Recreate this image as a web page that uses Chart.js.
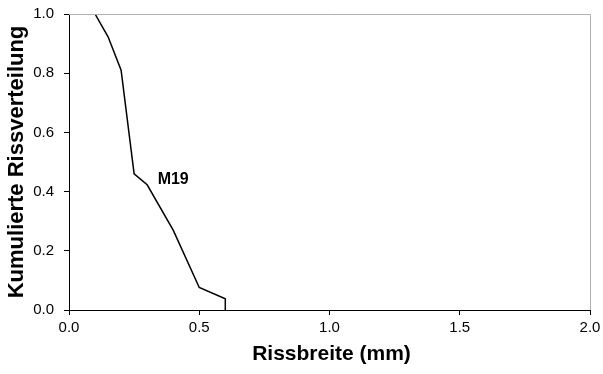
<!DOCTYPE html>
<html>
<head>
<meta charset="utf-8">
<script src="https://cdn.jsdelivr.net/npm/chart.js@4/dist/chart.umd.min.js"></script>
<style>
  html, body { margin: 0; padding: 0; background: #fff; }
  #wrap { width: 603px; height: 374px; }
</style>
</head>
<body>
<div id="wrap"><canvas id="chart" width="603" height="374"></canvas></div>
<script>
// crack width (mm) vs cumulative distribution, series M19
const rissbreite = [0.1, 0.15, 0.2, 0.25, 0.3, 0.4, 0.5, 0.6, 0.6];
const kumuliert  = [1.0, 0.923, 0.81, 0.46, 0.423, 0.27, 0.076, 0.038, 0.0];
const seriesName = 'M19';
const labelPos = [0.40, 0.44];
const xTitle = 'Rissbreite (mm)';
const yTitle = 'Kumulierte Rissverteilung';

const FONT = 'Arial, "Liberation Sans", sans-serif';

// gray frame on top/right, axis titles and series label
const extras = {
    id: 'extras',
    afterDraw(chart) {
        const ctx = chart.ctx, a = chart.chartArea;
        const xs = chart.scales.x, ys = chart.scales.y;
        ctx.save();
        ctx.strokeStyle = '#b0b0b0';
        ctx.lineWidth = 1;
        ctx.beginPath();
        ctx.moveTo(a.left, a.top + 0.5);
        ctx.lineTo(a.right + 0.5, a.top + 0.5);
        ctx.lineTo(a.right + 0.5, a.bottom);
        ctx.stroke();

        ctx.fillStyle = '#000';
        ctx.textAlign = 'center';
        ctx.textBaseline = 'middle';
        ctx.font = 'bold 16px ' + FONT;
        ctx.fillText(seriesName, xs.getPixelForValue(labelPos[0]), ys.getPixelForValue(labelPos[1]));

        ctx.font = 'bold 21px ' + FONT;
        ctx.fillText(xTitle, (a.left + a.right) / 2 + 2, 354);
        ctx.font = 'bold 22px ' + FONT;
        ctx.translate(17, 162);
        ctx.rotate(-Math.PI / 2);
        ctx.fillText(yTitle, 0, 0);
        ctx.restore();
    }
};

const chart = new Chart(document.getElementById('chart'), {
    type: 'scatter',
    data: {
        datasets: [{
            label: seriesName,
            data: rissbreite.map((x, i) => ({x: x, y: kumuliert[i]})),
            showLine: true,
            borderColor: '#000',
            borderWidth: 1.5,
            pointRadius: 0,
            tension: 0
        }]
    },
    options: {
        responsive: false,
        animation: false,
        layout: { padding: { top: 14, right: 13, left: 0, bottom: 0 } },
        plugins: { legend: { display: false }, tooltip: { enabled: false } },
        scales: {
            x: {
                type: 'linear', min: 0, max: 2,
                afterFit: s => { s.height = 64; s.paddingLeft = 0; s.paddingRight = 0; },
                border: { color: '#000', width: 1 },
                grid: { drawOnChartArea: false, tickLength: 5, color: '#000' },
                ticks: { stepSize: 0.5, color: '#000', font: { family: FONT, size: 15 }, padding: 4,
                    callback: v => v.toFixed(1) }
            },
            y: {
                type: 'linear', min: 0, max: 1,
                afterFit: s => { s.width = 69; s.paddingTop = 0; s.paddingBottom = 0; },
                border: { color: '#000', width: 1 },
                grid: { drawOnChartArea: false, tickLength: 5, color: '#000' },
                ticks: { stepSize: 0.2, color: '#000', font: { family: FONT, size: 15 }, padding: 10,
                    callback: v => v.toFixed(1) }
            }
        }
    },
    plugins: [extras]
});
</script>
</body>
</html>
